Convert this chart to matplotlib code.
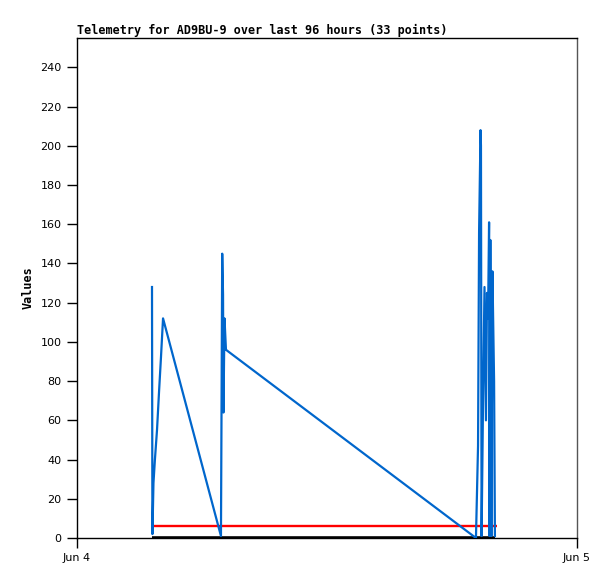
import matplotlib
matplotlib.use("Agg")
import matplotlib.pyplot as plt
from datetime import datetime, timedelta

# hours after Jun 4 00:00 and the telemetry values
hours = [3.60, 3.62, 3.67, 3.74, 3.84, 3.94, 4.03, 4.13,
         6.91, 6.94, 6.97, 7.01, 7.03, 7.08, 7.15,
         19.15, 19.25, 19.30, 19.37, 19.39, 19.42, 19.49, 19.56, 19.63,
         19.68, 19.73, 19.78, 19.80, 19.84, 19.89, 19.94, 20.02, 20.06]
values = [128, 2, 28, 40, 55, 75, 92, 112,
          1, 72, 145, 124, 64, 112, 96,
          0, 47, 156, 208, 200, 1, 70, 128, 60,
          125, 112, 161, 1, 152, 1, 136, 80, 1]

limit_hours = [3.70, 20.16]
limit_values = [6, 6]
base_hours = [3.60, 20.06]
base_values = [0, 0]

day0 = datetime(2024, 6, 4)
to_dt = lambda hs: [day0 + timedelta(hours=h) for h in hs]

fig = plt.figure(figsize=(6.15, 5.79), dpi=100)
ax = fig.add_axes([77 / 615, 1 - 538 / 579, 500 / 615, 500 / 579])

ax.plot(to_dt(base_hours), base_values, color='black', lw=2.6, solid_capstyle='butt', zorder=3)
ax.plot(to_dt(limit_hours), limit_values, color='#ff0000', lw=1.7, solid_capstyle='butt', zorder=2)
ax.plot(to_dt(hours), values, color='#0066cc', lw=1.6, zorder=4)

ax.set_xlim(day0, day0 + timedelta(days=1))
ax.set_ylim(0, 255)
ax.set_xticks([day0, day0 + timedelta(days=1)])
ax.set_xticklabels(['Jun 4', 'Jun 5'])
ax.set_yticks(range(0, 241, 20))

ax.tick_params(direction='out', length=7, width=1, labelsize=8, colors='black', pad=4)
ax.spines['right'].set_color('#555555')
for s in ax.spines.values():
    s.set_linewidth(1)

ax.set_title("Telemetry for AD9BU-9 over last 96 hours (33 points)", loc='left',
             fontsize=8.5, fontweight='bold', family='DejaVu Sans Mono', pad=3)
ax.set_ylabel("Values", fontsize=8.5, fontweight='bold', family='DejaVu Sans Mono', labelpad=4)

fig.savefig("out.png", dpi=100)
